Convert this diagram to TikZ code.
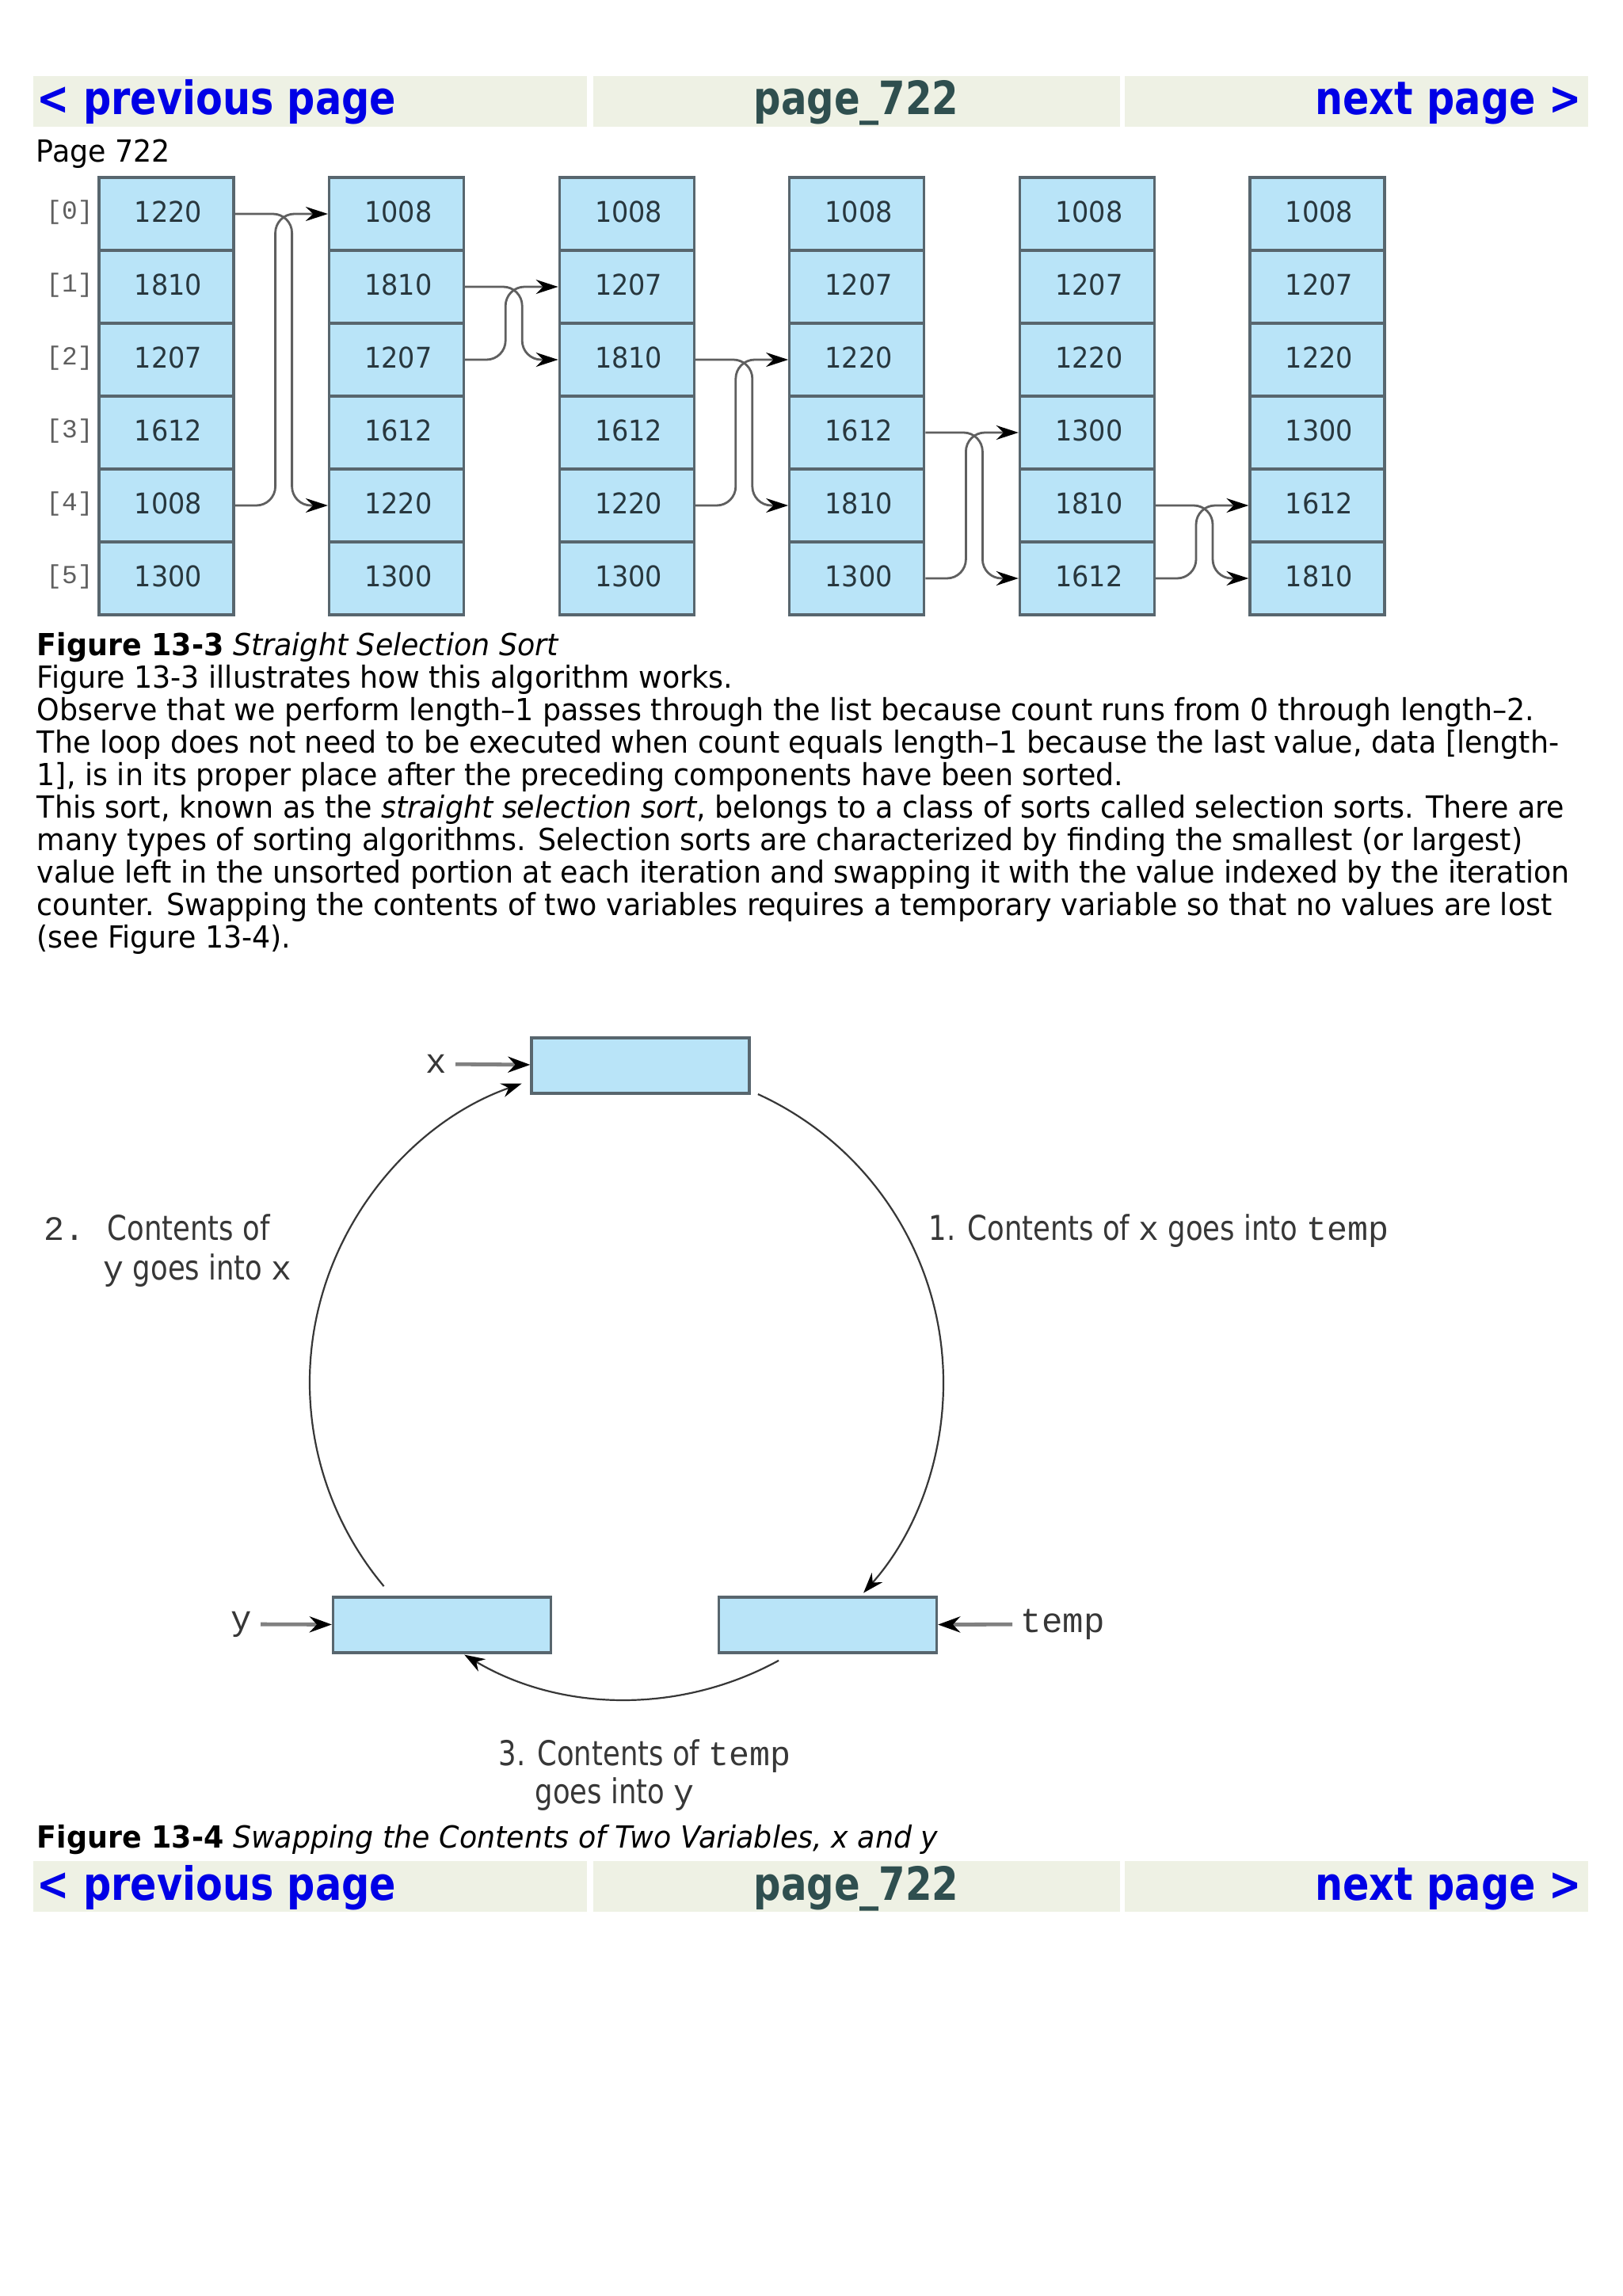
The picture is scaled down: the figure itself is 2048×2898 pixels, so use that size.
\documentclass[tikz,border=0pt]{standalone}
\usepackage{fontspec}
\setmainfont{DejaVu Sans}[FakeStretch=0.948]
\newfontfamily\hdrfont{DejaVu Sans}[FakeStretch=0.83]
\newfontfamily\linkfont{DejaVu Sans}[FakeStretch=0.85]
\newfontfamily\numfont{DejaVu Sans}[FakeStretch=0.93]
\newfontfamily\lblfont{DejaVu Sans}[FakeStretch=0.82]
\newfontfamily\twfont{Liberation Mono}
\usetikzlibrary{arrows.meta}
\definecolor{barbg}{RGB}{238,241,228}
\definecolor{linkblue}{RGB}{0,0,230}
\definecolor{slate}{RGB}{47,79,79}
\definecolor{cellfill}{RGB}{185,228,248}
\definecolor{celledge}{RGB}{88,102,110}
\definecolor{numcol}{RGB}{40,55,62}
\definecolor{idxcol}{RGB}{95,95,95}
\definecolor{wire}{RGB}{95,95,95}
\definecolor{lblcol}{RGB}{55,55,55}
\tikzset{
  bodytext/.style={anchor=base west, inner sep=0pt, font=\fontsize{9.6}{9.6}\selectfont},
  hdrlink/.style={inner sep=0pt, text=linkblue, font=\linkfont\bfseries\fontsize{14.5}{14.5}\selectfont},
  hdrmid/.style={inner sep=0pt, text=slate, font=\hdrfont\bfseries\fontsize{14.5}{14.5}\selectfont},
  cell/.style={draw=celledge, fill=cellfill, line width=0.8pt, minimum width=42.5pt, minimum height=23pt, inner sep=0pt, text=numcol, font=\numfont\fontsize{9}{9}\selectfont},
  idx/.style={inner sep=0pt, text=idxcol, font=\twfont\fontsize{8.2}{8.2}\selectfont},
  swapwire/.style={draw=wire, line width=0.7pt, rounded corners=6pt, -{Stealth[length=7pt,width=4.5pt,black]}},
  varbox/.style={draw=celledge, fill=cellfill, line width=0.8pt, minimum width=68.75pt, minimum height=17.5pt, inner sep=0pt},
  varname/.style={inner sep=2.5pt, text=lblcol, font=\twfont\fontsize{11}{11}\selectfont},
  ptr/.style={draw=gray, line width=1.2pt, -{Stealth[length=7pt,width=5pt,black]}},
  arcwire/.style={draw=lblcol, line width=0.55pt, -{Stealth[length=6.5pt,width=4.5pt,black]}},
  lbl/.style={anchor=base west, inner sep=0pt, text=lblcol, font=\lblfont\fontsize{10.8}{10.8}\selectfont},
}
\newcommand\tw[1]{{\twfont #1}}
\begin{document}
\begin{tikzpicture}[x=0.25pt,y=-0.25pt]
\useasboundingbox (0,0) rectangle (2048,2898);
\fill[white] (0,0) rectangle (2048,2898);
% header bars
\fill[barbg] (42,96) rectangle (741,160);
\fill[barbg] (749,96) rectangle (1414,160);
\fill[barbg] (1420,96) rectangle (2005,160);
\node[hdrlink, anchor=base west] (prevA) at (46,145) {< previous page};
\node[hdrmid, anchor=base] (pageA) at (1081,145) {page\_722};
\node[hdrlink, anchor=base east] (nextA) at (1998,145) {next page >};
\node[bodytext] (pg) at (45,205) {Page 722};
% figure 13-3
\foreach \col/\vals in {0/{1220,1810,1207,1612,1008,1300},1/{1008,1810,1207,1612,1220,1300},2/{1008,1207,1810,1612,1220,1300},3/{1008,1207,1220,1612,1810,1300},4/{1008,1207,1220,1300,1810,1612},5/{1008,1207,1220,1300,1612,1810}}{
  \foreach \v [count=\r from 0] in \vals {
    \node[cell] (c\col-\r) at ({210+290.6*\col},{270+92*\r}) {\hspace*{1.2pt}\raisebox{1.4pt}{\v}};
  }
}
\foreach \r in {0,...,5}{
  \node[idx] (i\r) at (88,{268+92*\r}) {[\r]};
}
\draw[swapwire] (c0-0.east) -- ++(72,0) |- (c1-4.west);
\draw[swapwire] (c0-4.east) -- ++(51,0) |- (c1-0.west);
\draw[swapwire] (c1-1.east) -- ++(72,0) |- (c2-2.west);
\draw[swapwire] (c1-2.east) -- ++(51,0) |- (c2-1.west);
\draw[swapwire] (c2-2.east) -- ++(72,0) |- (c3-4.west);
\draw[swapwire] (c2-4.east) -- ++(51,0) |- (c3-2.west);
\draw[swapwire] (c3-3.east) -- ++(72,0) |- (c4-5.west);
\draw[swapwire] (c3-5.east) -- ++(51,0) |- (c4-3.west);
\draw[swapwire] (c4-4.east) -- ++(72,0) |- (c5-5.west);
\draw[swapwire] (c4-5.east) -- ++(51,0) |- (c5-4.west);
% text
\node[bodytext] (cap1) at (46,827) {\textbf{Figure 13-3} \textit{Straight Selection Sort}};
\node[bodytext] (t1) at (46,868) {Figure 13-3 illustrates how this algorithm works.};
\node[bodytext] (t2) at (46,909) {Observe that we perform length–1 passes through the list because count runs from 0 through length–2.};
\node[bodytext] (t3) at (46,950) {The loop does not need to be executed when count equals length–1 because the last value, data [length-};
\node[bodytext] (t4) at (46,991) {1], is in its proper place after the preceding components have been sorted.};
\node[bodytext] (t5) at (46,1032) {This sort, known as the \textit{straight selection sort}, belongs to a class of sorts called selection sorts. There are};
\node[bodytext] (t6) at (46,1073) {many types of sorting algorithms. Selection sorts are characterized by finding the smallest (or largest)};
\node[bodytext] (t7) at (46,1114) {value left in the unsorted portion at each iteration and swapping it with the value indexed by the iteration};
\node[bodytext] (t8) at (46,1155) {counter. Swapping the contents of two variables requires a temporary variable so that no values are lost};
\node[bodytext] (t9) at (46,1196) {(see Figure 13-4).};
% figure 13-4
\node[varbox] (xbox) at (808.5,1345) {};
\node[varbox] (ybox) at (558,2051) {};
\node[varbox] (tbox) at (1045,2051) {};
\node[varname] (xl) at (551,1343) {x};
\node[varname] (yl) at (305,2050) {y};
\node[varname, anchor=west] (tl) at (1278,2050) {temp};
\draw[ptr] (xl) -- (xbox);
\draw[ptr] (yl) -- (ybox);
\draw[ptr] (tl) -- (tbox);
\coordinate (ctr) at (791,1745);
\draw[arcwire] ([shift={(-65.5:400)}]ctr) arc[start angle=-65.5, end angle=41.6, radius=400];
\draw[arcwire] ([shift={(140:400)}]ctr) arc[start angle=140, end angle=250.7, radius=400];
\draw[arcwire] ([shift={(61.3:400)}]ctr) arc[start angle=61.3, end angle=120.8, radius=400];
\node[lbl] (l1) at (1172,1565) {1. Contents of \tw{x} goes into \tw{temp}};
\node[lbl] (l2a) at (55,1565) {\tw{2.}};
\node[lbl] (l2b) at (135,1565) {Contents of};
\node[lbl] (l2c) at (130,1615) {\tw{y} goes into \tw{x}};
\node[lbl] (l3a) at (629,2228) {3. Contents of \tw{temp}};
\node[lbl] (l3b) at (675,2276) {goes into \tw{y}};
\node[bodytext] (cap2) at (46,2332) {\textbf{Figure 13-4} \textit{Swapping the Contents of Two Variables, x and y}};
% footer bars
\fill[barbg] (42,2349) rectangle (741,2413);
\fill[barbg] (749,2349) rectangle (1414,2413);
\fill[barbg] (1420,2349) rectangle (2005,2413);
\node[hdrlink, anchor=base west] (prevB) at (46,2398) {< previous page};
\node[hdrmid, anchor=base] (pageB) at (1081,2398) {page\_722};
\node[hdrlink, anchor=base east] (nextB) at (1998,2398) {next page >};
\end{tikzpicture}
\end{document}
